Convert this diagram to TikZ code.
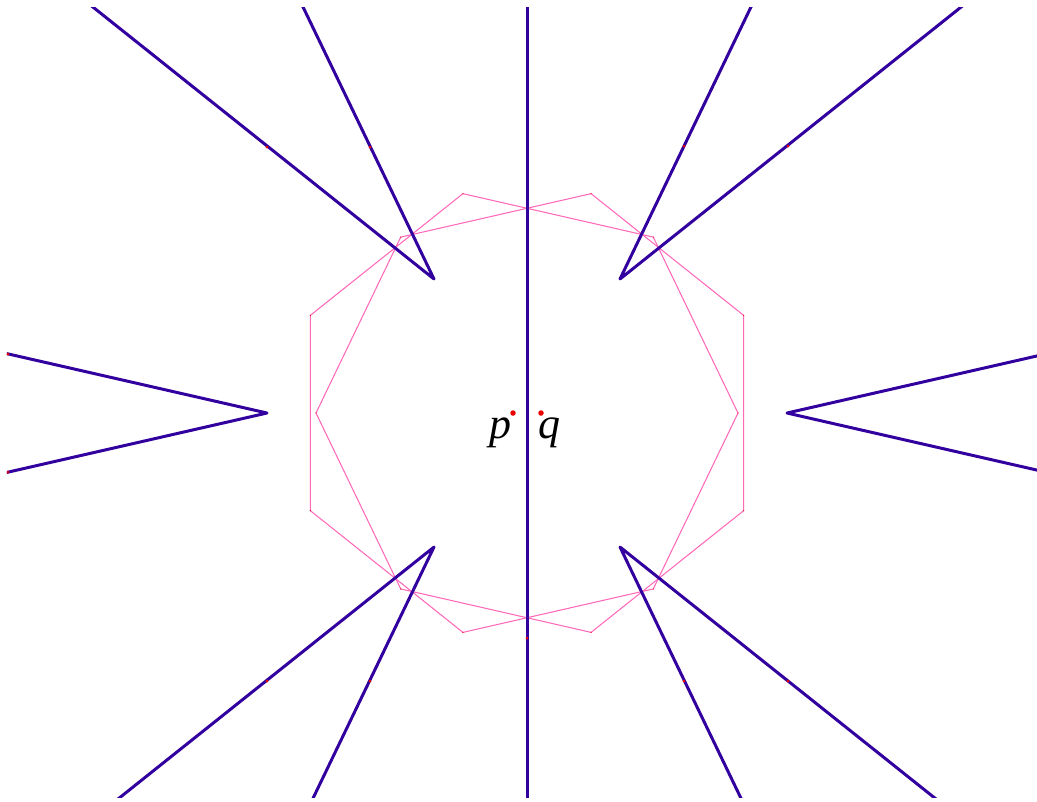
\documentclass[tikz,border=0pt]{standalone}
\usepackage{fontspec}
\setmainfont{Liberation Serif}
\usepackage{tikz}
\usetikzlibrary{positioning, calc}
\definecolor{rayblue}{RGB}{51, 0, 160}
\definecolor{heptpink}{RGB}{255, 105, 185}
\definecolor{dotred}{RGB}{235, 0, 0}

\begin{document}
\begin{tikzpicture}[
    ray/.style={draw=rayblue, line width=0.85pt, line join=round},
    hept/.style={draw=heptpink, line width=0.3pt},
    centre/.style={circle, fill=dotred, inner sep=0pt, minimum size=0.55mm},
    dotmark/.style={fill=dotred},
    lbl/.style={inner sep=0.6pt, font=\fontsize{12.5}{15}\selectfont\itshape}
]
    \useasboundingbox (-5.27,-3.88) rectangle (5.10,4.13);

    % the two heptagons
    \draw[hept, shift={(0.14,0)}] (180:2.25) \foreach \k in {1,...,6} { -- (180+\k*360/7:2.25) } -- cycle;
    \draw[hept, shift={(-0.14,0)}] (0:2.25) \foreach \k in {1,...,6} { -- (\k*360/7:2.25) } -- cycle;

    % wedge tips
    \coordinate (tipL) at (-2.60,0);
    \coordinate (tipR) at (2.60,0);
    \coordinate (tipTL) at (-0.93,1.34);
    \coordinate (tipTR) at (0.93,1.34);
    \coordinate (tipBL) at (-0.93,-1.34);
    \coordinate (tipBR) at (0.93,-1.34);

    \begin{scope}
        \clip (-5.20,-3.84) rectangle (5.10,4.06);
        \draw[ray] (0.003,5) -- (0.003,-5);
        \draw[ray] (tipL) ++(167.14:4) -- (tipL) -- ++(192.86:4);
        \draw[ray] (tipR) ++(12.86:4) -- (tipR) -- ++(-12.86:4);
        \draw[ray] (tipTL) ++(141.43:6) -- (tipTL) -- ++(115.71:6);
        \draw[ray] (tipTR) ++(38.57:6) -- (tipTR) -- ++(64.29:6);
        \draw[ray] (tipBL) ++(218.57:6) -- (tipBL) -- ++(244.29:6);
        \draw[ray] (tipBR) ++(-38.57:6) -- (tipBR) -- ++(-64.29:6);
    \end{scope}

    % small marks
    \foreach \pt in {(-2.60,2.66), (-1.57,2.66), (1.57,2.67), (2.61,2.67),
                     (-2.60,-2.68), (-1.57,-2.68), (1.57,-2.68), (2.61,-2.68),
                     (0,-2.25), (-5.19,0.59), (-5.19,-0.59)}
        \fill[dotmark] \pt circle (0.015);
    \foreach \k in {0,...,6} {
        \fill[dotmark] ($(0.14,0)+(180+\k*360/7:2.25)$) circle (0.006);
        \fill[dotmark] ($(-0.14,0)+(\k*360/7:2.25)$) circle (0.006);
    }

    % the two centres
    \node[centre] (p) at (-0.14,0) {};
    \node[centre] (q) at (0.14,0) {};
    \node[lbl, below left=0pt and -1.1pt of p] (plabel) {p};
    \node[lbl, below right=0pt and -2.2pt of q] (qlabel) {q};
\end{tikzpicture}
\end{document}
